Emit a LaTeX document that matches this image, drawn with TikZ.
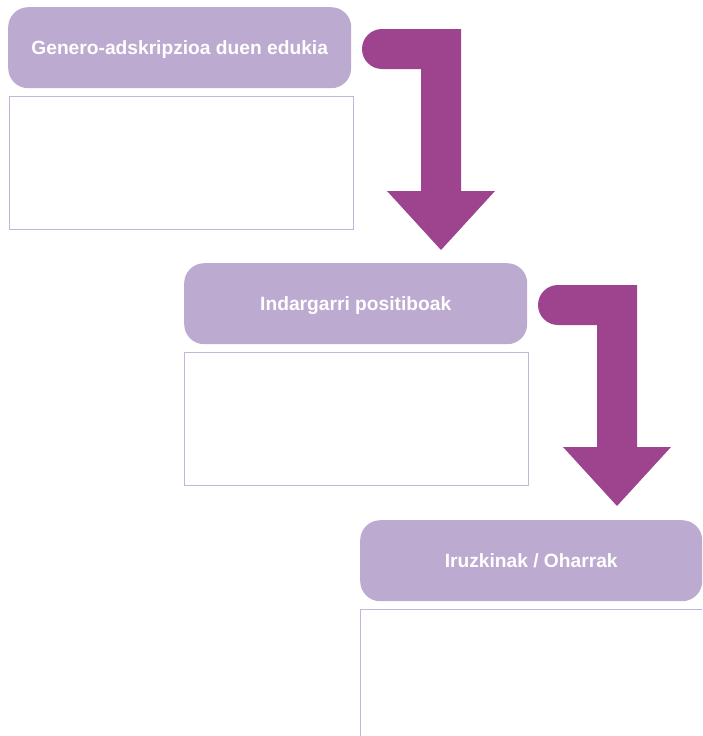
\documentclass[tikz,border=0pt]{standalone}
\usepackage{fontspec}
\setmainfont{Liberation Sans}
\begin{document}
\begin{tikzpicture}[x=1pt,y=-1pt,
  header/.style={fill=headfill, draw=none, rounded corners=20pt, minimum width=343pt, minimum height=81pt, inner sep=0pt,
     text=white, font=\bfseries\fontsize{19.2}{21}\selectfont, text depth=0pt, text height=13.8pt, anchor=north west},
  contentbox/.style={draw=boxline, line width=0.8pt, fill=white, minimum width=344pt, minimum height=133pt, inner sep=0pt, anchor=north west},
  bigarrow/.pic={
    \fill[arrowfill] (20,0) -- (99,0) -- (99,162) -- (133,162) -- (79,221) -- (25,162) -- (59,162) -- (59,40) -- (20,40)
      arc[start angle=90, end angle=270, radius=20] -- cycle;
  }]
\definecolor{headfill}{HTML}{BDAAD0}
\definecolor{boxline}{HTML}{C6B3DA}
\definecolor{arrowfill}{HTML}{9E448E}
\useasboundingbox (0,0) rectangle (702,736);
\clip (0,0) rectangle (702,736);
\node[header] (h1) at (8,7) {Genero-adskripzioa duen edukia};
\node[contentbox] (b1) at (9,96) {};
\node[header] (h2) at (184,263) {Indargarri positiboak};
\node[contentbox] (b2) at (184,352) {};
\node[header, minimum width=342pt] (h3) at (360,520) {Iruzkinak / Oharrak};
\node[contentbox, minimum height=200pt] (b3) at (360,609) {};
\pic at (362,29) {bigarrow};
\pic at (538,285) {bigarrow};
\end{tikzpicture}
\end{document}
